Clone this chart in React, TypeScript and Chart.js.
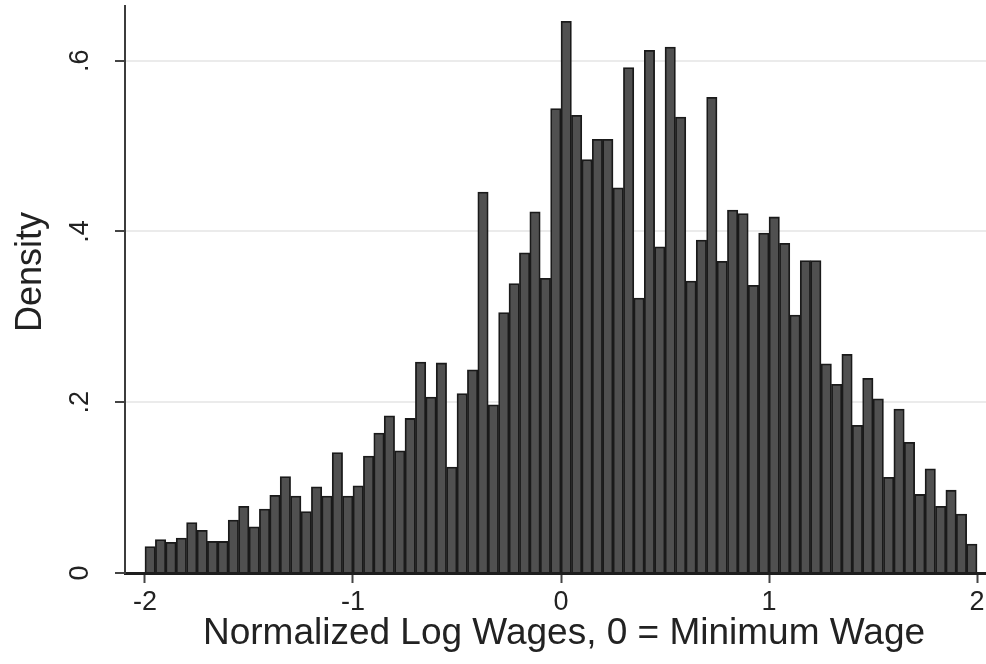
import React, { useEffect, useRef } from 'react';
import { Chart, registerables } from 'chart.js';

Chart.register(...registerables);

// Bin centres (bin width 0.05, from -2 to 2)
const binCenters = [
  -1.975, -1.925, -1.875, -1.825, -1.775, -1.725, -1.675, -1.625, -1.575, -1.525,
  -1.475, -1.425, -1.375, -1.325, -1.275, -1.225, -1.175, -1.125, -1.075, -1.025,
  -0.975, -0.925, -0.875, -0.825, -0.775, -0.725, -0.675, -0.625, -0.575, -0.525,
  -0.475, -0.425, -0.375, -0.325, -0.275, -0.225, -0.175, -0.125, -0.075, -0.025,
  0.025, 0.075, 0.125, 0.175, 0.225, 0.275, 0.325, 0.375, 0.425, 0.475,
  0.525, 0.575, 0.625, 0.675, 0.725, 0.775, 0.825, 0.875, 0.925, 0.975,
  1.025, 1.075, 1.125, 1.175, 1.225, 1.275, 1.325, 1.375, 1.425, 1.475,
  1.525, 1.575, 1.625, 1.675, 1.725, 1.775, 1.825, 1.875, 1.925, 1.975,
];

// Density per bin
const density = [
  0.031, 0.039, 0.036, 0.041, 0.059, 0.050, 0.037, 0.037, 0.062, 0.078,
  0.054, 0.075, 0.091, 0.113, 0.090, 0.072, 0.101, 0.090, 0.141, 0.090,
  0.102, 0.137, 0.164, 0.184, 0.143, 0.181, 0.247, 0.206, 0.246, 0.124,
  0.210, 0.238, 0.446, 0.197, 0.305, 0.339, 0.375, 0.423, 0.345, 0.544,
  0.646, 0.536, 0.484, 0.508, 0.508, 0.451, 0.592, 0.322, 0.612, 0.382,
  0.616, 0.534, 0.342, 0.390, 0.557, 0.365, 0.425, 0.421, 0.337, 0.398,
  0.417, 0.386, 0.302, 0.366, 0.366, 0.245, 0.221, 0.256, 0.173, 0.228,
  0.204, 0.112, 0.192, 0.153, 0.092, 0.122, 0.078, 0.097, 0.069, 0.034,
];

const xTickValues = [-2, -1, 0, 1, 2];
const xTickLabels = ['-2', '-1', '0', '1', '2'];
const yTickValues = [0, 0.2, 0.4, 0.6];
const yTickLabels = ['0', '.2', '.4', '.6'];
const xTitle = 'Normalized Log Wages, 0 = Minimum Wage';
const yTitle = 'Density';

const FONT = '"Liberation Sans", Arial, Helvetica, sans-serif';

export default function App() {
  const ref = useRef<HTMLCanvasElement>(null);

  useEffect(() => {
    if (!ref.current) return;

    const titlePlugin = {
      id: 'axisTitles',
      afterDraw(chart: any) {
        const ctx = chart.ctx;
        ctx.save();
        ctx.fillStyle = '#222';
        ctx.font = `37px ${FONT}`;
        ctx.textAlign = 'center';
        ctx.textBaseline = 'middle';
        ctx.fillText(xTitle, 564, 634);
        ctx.font = `36px ${FONT}`;
        ctx.translate(31, 272);
        ctx.rotate(-Math.PI / 2);
        ctx.fillText(yTitle, 0, 0);
        ctx.restore();
      },
    };

    const chart = new Chart(ref.current, {
      type: 'bar',
      data: {
        datasets: [
          {
            data: density.map((y, i) => ({ x: binCenters[i], y })),
            backgroundColor: '#505050',
            borderColor: '#1a1a1a',
            borderWidth: 1.8,
            barPercentage: 1,
            categoryPercentage: 1,
          },
        ],
      },
      options: {
        animation: false,
        responsive: true,
        maintainAspectRatio: false,
        layout: { padding: { top: 6, right: 0, left: 0, bottom: 0 } },
        plugins: {
          legend: { display: false },
          tooltip: { enabled: false },
        },
        scales: {
          x: {
            type: 'linear',
            offset: false,
            min: -2.096,
            max: 2.043,
            afterBuildTicks: (scale: any) => {
              scale.ticks = xTickValues.map((v) => ({ value: v }));
            },
            afterFit: (scale: any) => {
              scale.height = 91;
              scale.paddingLeft = 0;
              scale.paddingRight = 0;
            },
            ticks: {
              autoSkip: false,
              maxRotation: 0,
              minRotation: 0,
              padding: 3,
              color: '#222',
              font: { family: FONT, size: 27 },
              callback: (value: any) => {
                const idx = xTickValues.indexOf(Number(value));
                return idx >= 0 ? xTickLabels[idx] : '';
              },
            },
            grid: {
              display: true,
              offset: false,
              drawOnChartArea: false,
              drawTicks: true,
              tickLength: 10,
              tickColor: '#444',
              tickWidth: 2,
            },
            border: { display: true, color: '#1e1e1e', width: 3, z: 1 },
          },
          y: {
            type: 'linear',
            min: 0,
            max: 0.664,
            afterBuildTicks: (scale: any) => {
              scale.ticks = yTickValues.map((v) => ({ value: v }));
            },
            afterFit: (scale: any) => {
              scale.width = 125;
              scale.paddingTop = 0;
              scale.paddingBottom = 0;
            },
            ticks: {
              autoSkip: false,
              minRotation: 90,
              maxRotation: 90,
              crossAlign: 'center',
              padding: 23,
              color: '#222',
              font: { family: FONT, size: 27 },
              callback: (value: any) => {
                const idx = yTickValues.findIndex((v) => Math.abs(v - Number(value)) < 1e-9);
                return idx >= 0 ? yTickLabels[idx] : '';
              },
            },
            grid: {
              display: true,
              drawTicks: true,
              tickLength: 10,
              tickColor: '#444',
              tickWidth: 2,
              lineWidth: 2,
              color: (ctx: any) =>
                ctx.tick && ctx.tick.value === 0 ? 'rgba(0,0,0,0)' : '#ebebeb',
            },
            border: { display: true, color: '#3c3c3c', width: 2, z: 1 },
          },
        },
      },
      plugins: [titlePlugin],
    });

    return () => chart.destroy();
  }, []);

  return (
    <div
      style={{
        position: 'absolute',
        left: 0,
        top: 0,
        width: 986,
        height: 664,
        background: '#fff',
      }}
    >
      <canvas ref={ref} />
    </div>
  );
}
